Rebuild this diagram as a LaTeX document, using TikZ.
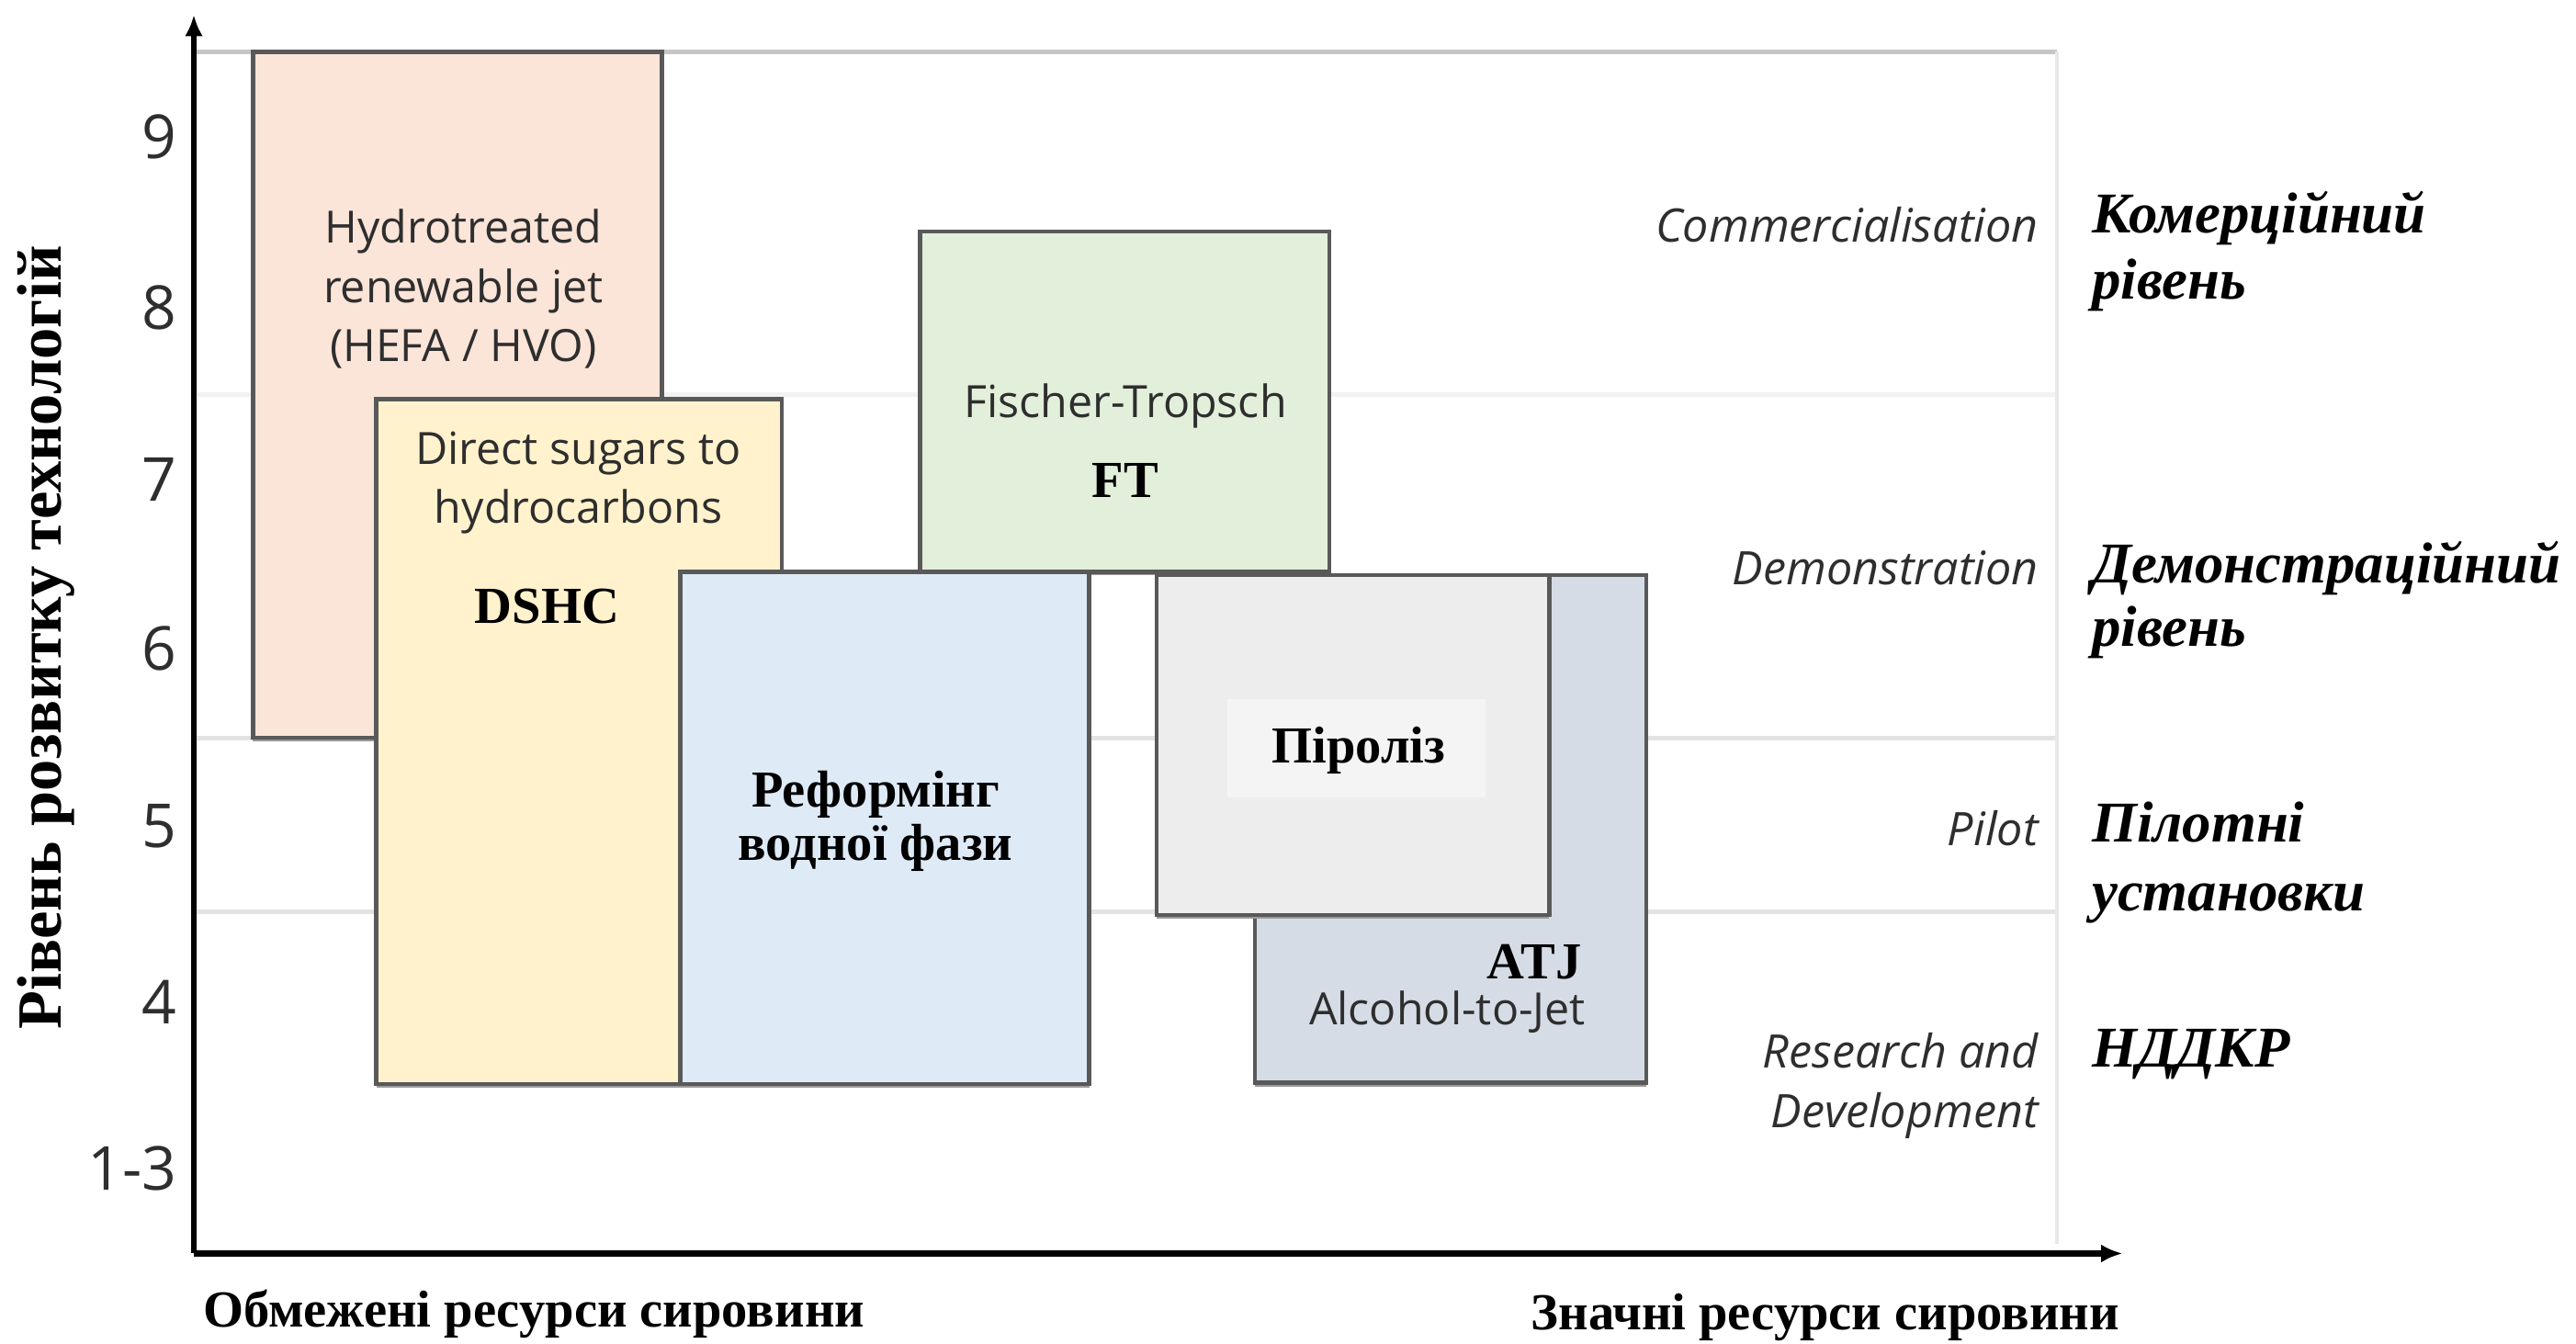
\documentclass[tikz,border=0pt]{standalone}
\usepackage{fontspec}
\setmainfont{Liberation Serif}
\newfontfamily\segoe{Open Sans}
\usetikzlibrary{arrows.meta}
\usetikzlibrary{fit}
\usetikzlibrary{shadows}

\definecolor{hefafill}{HTML}{FBE4D8}
\definecolor{dshcfill}{HTML}{FFF2CC}
\definecolor{aprfill}{HTML}{DEEAF6}
\definecolor{ftfill}{HTML}{E2EFDA}
\definecolor{pyrfill}{HTML}{EDEDED}
\definecolor{pyrinner}{HTML}{F4F4F4}
\definecolor{atjfill}{HTML}{D6DCE5}
\definecolor{edgegray}{HTML}{595959}
\definecolor{textgray}{HTML}{2E2E2E}

\begin{document}
\begin{tikzpicture}[
    x=0.02cm, y=-0.02cm,
    box/.style={draw=edgegray, line width=1.4pt, inner sep=0pt, rectangle,
        drop shadow={shadow xshift=0pt, shadow yshift=-1.3pt, fill=black!40, opacity=1}},
    entext/.style={font=\segoe\fontsize{15.4}{20.5}\selectfont, text=textgray, align=center, inner sep=0pt},
    uabold/.style={font=\fontsize{18}{18.5}\selectfont\bfseries, align=center, inner sep=0pt},
    stagelabel/.style={font=\segoe\itshape\fontsize{16}{20.5}\selectfont, text=textgray, align=right, anchor=east, inner sep=0pt},
    levellabel/.style={font=\fontsize{20}{20}\selectfont\bfseries\itshape, align=left, anchor=west, inner sep=0pt},
    trlnum/.style={font=\segoe\fontsize{21}{21}\selectfont, text=textgray, anchor=east, inner sep=0pt},
    gridline/.style={line width=1.6pt, draw=gray!22},
    axis/.style={line width=2.2pt, -{Latex[length=2.6mm, width=2.2mm]}}
]

    \useasboundingbox (0,0) rectangle (1568,818);

    % Grid of readiness levels
    \draw[gridline, draw=gray!45] (118,31.5) -- (1252,31.5);
    \draw[gridline, draw=gray!10] (118,240) -- (1252,240);
    \draw[gridline] (118,449.5) -- (1252,449.5);
    \draw[gridline] (118,555) -- (1252,555);
    \draw[line width=1.2pt, draw=gray!18] (1252,31.5) -- (1252,757);

    % Technology boxes
    \node[box, fill=hefafill, fit={(154,31.5) (403,449)}] (hefa) {};
    \node[box, fill=dshcfill, fit={(229,243) (476,660)}] (dshc) {};
    \node[box, fill=ftfill, fit={(560,141) (809,348)}] (ft) {};
    \node[box, fill=aprfill, fit={(414,348) (663,660)}] (apr) {};
    \node[box, fill=atjfill, fit={(764,350) (1002,659)}] (atj) {};
    \node[box, fill=pyrfill, fit={(704,350) (943,557)}] (pyr) {};
    \node[fill=pyrinner, inner sep=0pt, fit={(747,425.5) (904,485.5)}] (pyrlabel) {};

    % Box texts
    \node[entext] (hefatext) at (282,176) {Hydrotreated\\renewable jet\\(HEFA / HVO)};
    \node[entext] (dshctext) at (352,294) {Direct sugars to\\hydrocarbons};
    \node[uabold] (dshcabbr) at (333,369) {DSHC};
    \node[entext] (fttext) at (685,247) {Fischer-Tropsch};
    \node[uabold] (ftabbr) at (685,292.5) {FT};
    \node[uabold] (aprtext) at (533,500) {Реформінг\\водної фази};
    \node[uabold] (pyrtext) at (827,456.7) {Піроліз};
    \node[uabold] (atjabbr) at (934,585.7) {ATJ};
    \node[entext] (atjtext) at (881,616) {Alcohol-to-Jet};

    % Axes
    \coordinate (origin) at (118,763);
    \coordinate (ytip) at (118,9);
    \coordinate (xtip) at (1292,763);
    \draw[axis] (origin) -- (ytip);
    \draw[axis] (origin) -- (xtip);

    % Level numbers
    \foreach \lvl/\ypos in {9/83.4, 8/187.5, 7/291.6, 6/395, 5/503, 4/610, 1-3/711.5}
        \node[trlnum] (trl\lvl) at (108,\ypos) {\lvl};

    \node[rotate=90, inner sep=0pt, font=\fontsize{21.8}{22}\selectfont\bfseries] (ytitle) at (28,388) {Рівень розвитку технологій};
    \node[uabold] (lowres) at (325,800) {Обмежені ресурси сировини};
    \node[uabold] (highres) at (1111,802) {Значні ресурси сировини};

    % Stage names
    \node[stagelabel] (comm) at (1241,137) {Commercialisation};
    \node[stagelabel] (demo) at (1241,346) {Demonstration};
    \node[stagelabel] (pilot) at (1241,504) {Pilot};
    \node[stagelabel] (rnd) at (1241,661) {Research and\\Development};

    \node[levellabel] (commua) at (1273,153) {Комерційний\\[3pt]рівень};
    \node[levellabel] (demoua) at (1273,365) {Демонстраційний\\[2pt]рівень};
    \node[levellabel] (pilotua) at (1273,525) {Пілотні\\[4pt]установки};
    \node[levellabel] (rndua) at (1273,642) {НДДКР};

\end{tikzpicture}
\end{document}
